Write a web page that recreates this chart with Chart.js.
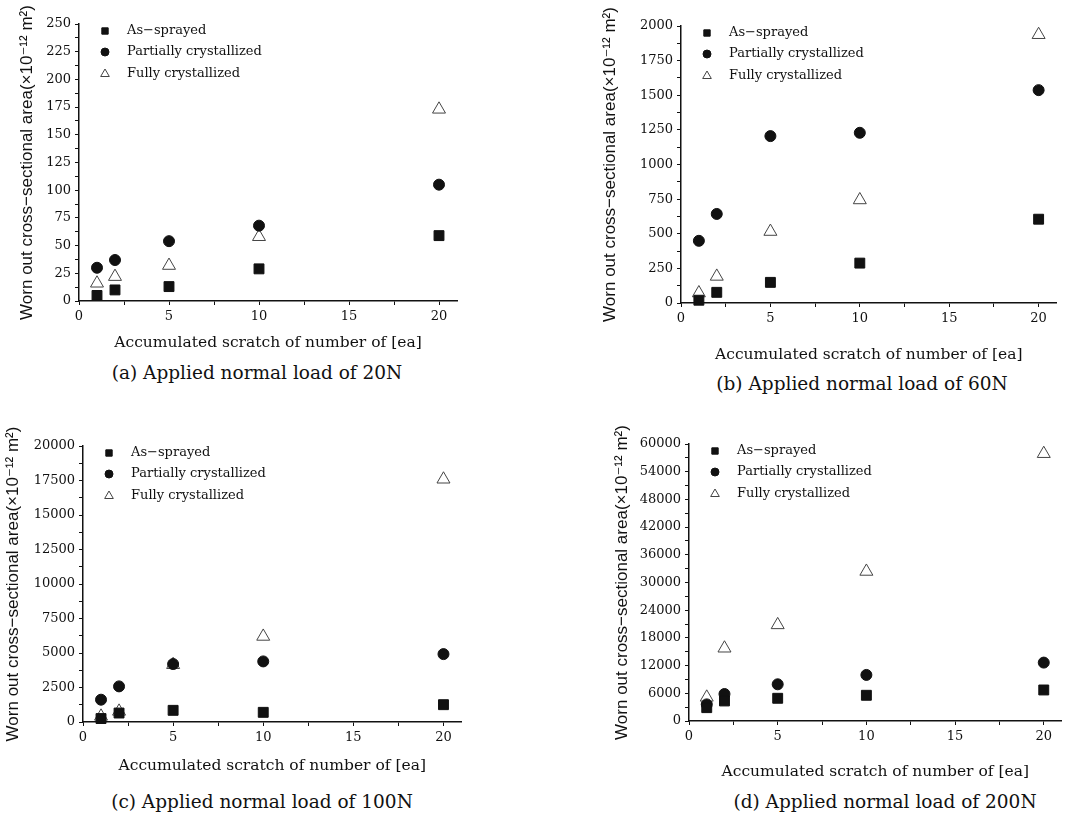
<!DOCTYPE html>
<html>
<head>
<meta charset="utf-8">
<script src="https://cdn.jsdelivr.net/npm/chart.js@4/dist/chart.umd.min.js"></script>
<style>
  body { margin: 0; width: 1065px; height: 828px; background: #fff; overflow: hidden; position: relative; }
  canvas { position: absolute; }
  .caption { position: absolute; font-family: "DejaVu Serif", "Liberation Serif", serif; font-size: 18.5px; color: #111; white-space: nowrap; transform: translate(-50%, -50%); }
</style>
</head>
<body>
<canvas id="chartA" width="470" height="360" style="left:0px;top:0px"></canvas>
<canvas id="chartB" width="525" height="370" style="left:540px;top:0px"></canvas>
<canvas id="chartC" width="470" height="370" style="left:0px;top:420px"></canvas>
<canvas id="chartD" width="510" height="370" style="left:560px;top:420px"></canvas>
<div class="caption" style="left:257px;top:372px">(a) Applied normal load of 20N</div>
<div class="caption" style="left:862px;top:383px">(b) Applied normal load of 60N</div>
<div class="caption" style="left:262px;top:801px">(c) Applied normal load of 100N</div>
<div class="caption" style="left:885px;top:801px">(d) Applied normal load of 200N</div>
<script>
// data
const scratches = [1, 2, 5, 10, 20];
const seriesNames = ["As\u2212sprayed", "Partially crystallized", "Fully crystallized"];

const asSprayed20 = [5, 10, 13, 29, 59];
const partial20 = [30, 37, 54, 68, 105];
const fully20 = [16, 22, 32, 58, 173];

const asSprayed60 = [20, 77, 149, 288, 605];
const partial60 = [449, 643, 1205, 1229, 1537];
const fully60 = [72, 192, 516, 744, 1937];

const asSprayed100 = [250, 650, 845, 700, 1255];
const partial100 = [1616, 2581, 4200, 4390, 4920];
const fully100 = [410, 772, 4150, 6200, 17590];

const asSprayed200 = [2890, 4340, 4920, 5570, 6720];
const partial200 = [3600, 5850, 7950, 9980, 12650];
const fully200 = [5130, 15760, 20820, 32390, 57900];

const yMax = [250, 2000, 20000, 60000];
const yStep = [25, 250, 2500, 6000];
const xTicks = [0, 5, 10, 15, 20];

const yTitle = "Worn out cross\u2212sectional area(\u00d710\u207b\u00b9\u00b2 m\u00b2)";
const xTitle = "Accumulated scratch of number of [ea]";

const serif = "'DejaVu Serif', 'Liberation Serif', serif";
const sans = "'Liberation Sans', 'DejaVu Sans', sans-serif";

const markerStyles = [
	{ pointStyle: "rect", radius: 7, legendRadius: 4.5, fill: "#111", stroke: "#111", width: 1 },
	{ pointStyle: "circle", radius: 5.5, legendRadius: 4, fill: "#111", stroke: "#111", width: 1 },
	{ pointStyle: "triangle", radius: 7.5, legendRadius: 5, fill: "#fff", stroke: "#444", width: 1 }
];

// legend drawn inside the plot area, top-left
const insideLegend = {
	id: "insideLegend",
	afterDraw(chart) {
		const ctx = chart.ctx;
		const area = chart.chartArea;
		const rows = [7, 28, 50];
		ctx.save();
		chart.data.datasets.forEach((ds, i) => {
			const m = markerStyles[i];
			const y = area.top + rows[i];
			ctx.fillStyle = m.fill;
			ctx.strokeStyle = m.stroke;
			ctx.lineWidth = m.width;
			Chart.helpers.drawPoint(ctx, { pointStyle: m.pointStyle, radius: m.legendRadius, rotation: 0, borderWidth: m.width }, area.left + 26, y);
			ctx.fillStyle = "#111";
			ctx.font = "13px " + serif;
			ctx.textBaseline = "middle";
			ctx.textAlign = "left";
			ctx.fillText(ds.label, area.left + 48, y);
		});
		ctx.restore();
	}
};

const makeChart = (canvasId, series, panel, box) => {
	const max = yMax[panel];
	const step = yStep[panel];
	const canvas = document.getElementById(canvasId);

	const datasets = series.map((values, i) => {
		const m = markerStyles[i];
		return {
			label: seriesNames[i],
			data: scratches.map((x, j) => ({ x: x, y: values[j] })),
			showLine: false,
			pointStyle: m.pointStyle,
			pointRadius: m.radius,
			pointHoverRadius: m.radius,
			pointBackgroundColor: m.fill,
			pointBorderColor: m.stroke,
			pointBorderWidth: m.width,
			clip: false
		};
	});

	return new Chart(canvas, {
		type: "scatter",
		data: { datasets: datasets },
		plugins: [insideLegend],
		options: {
			responsive: false,
			animation: false,
			events: [],
			layout: { padding: { top: box.T, right: canvas.width - box.R, left: 0, bottom: 0 } },
			plugins: { legend: { display: false }, tooltip: { enabled: false } },
			scales: {
				x: {
					type: "linear",
					min: 0,
					max: 21,
					afterBuildTicks: (scale) => {
						const ticks = [];
						for (let v = 0; v <= 20; v += 2.5) ticks.push({ value: v });
						scale.ticks = ticks;
					},
					afterFit: (scale) => { scale.height = canvas.height - box.B; },
					border: { display: true, color: "#111", width: 1.5 },
					grid: { drawOnChartArea: false, drawTicks: true, tickLength: 4, color: "#111" },
					ticks: {
						color: "#111",
						padding: 4,
						maxRotation: 0,
						autoSkip: false,
						font: { family: serif, size: 13 },
						callback: (v) => xTicks.includes(v) ? String(v) : ""
					},
					title: {
						display: true,
						text: xTitle,
						color: "#111",
						font: { family: serif, size: 15.5 },
						padding: { top: 0, bottom: box.xPad }
					}
				},
				y: {
					type: "linear",
					min: 0,
					max: max,
					afterBuildTicks: (scale) => {
						const ticks = [];
						for (let v = 0; v <= max; v += step / 2) ticks.push({ value: v });
						scale.ticks = ticks;
					},
					afterFit: (scale) => { scale.width = box.L; },
					border: { display: true, color: "#111", width: 1.5 },
					grid: { drawOnChartArea: false, drawTicks: true, tickLength: 4, color: "#111" },
					ticks: {
						color: "#111",
						padding: 4,
						autoSkip: false,
						font: { family: serif, size: 13 },
						callback: (v) => (v % step === 0) ? String(v) : ""
					},
					title: {
						display: true,
						text: yTitle,
						color: "#111",
						font: { family: sans, size: 17 },
						padding: { top: box.yPad, bottom: 0 }
					}
				}
			}
		}
	});
};

makeChart("chartA", [asSprayed20, partial20, fully20], 0, { L: 79, R: 457, T: 24, B: 301, yPad: 17, xPad: 8 });
makeChart("chartB", [asSprayed60, partial60, fully60], 1, { L: 141, R: 520, T: 26, B: 303, yPad: 60, xPad: 6 });
makeChart("chartC", [asSprayed100, partial100, fully100], 2, { L: 83, R: 463, T: 26, B: 302, yPad: 3, xPad: 15 });
makeChart("chartD", [asSprayed200, partial200, fully200], 3, { L: 129, R: 508, T: 24, B: 301, yPad: 52, xPad: 9 });
</script>
</body>
</html>
